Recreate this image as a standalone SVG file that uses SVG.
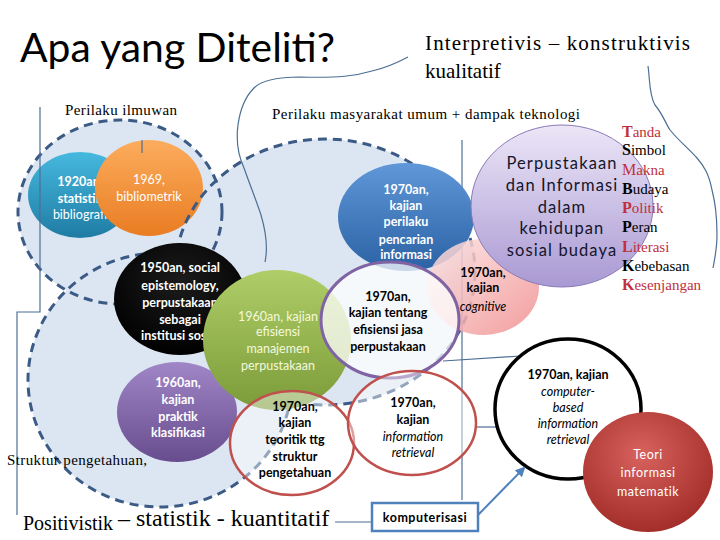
<svg xmlns="http://www.w3.org/2000/svg" width="720" height="540" viewBox="0 0 720 540">
<defs>
<linearGradient id="gTeal" x1="0" y1="0" x2="0" y2="1"><stop offset="0" stop-color="#46b8de"/><stop offset="1" stop-color="#1f7ca4"/></linearGradient>
<linearGradient id="gOrange" x1="0" y1="0" x2="0" y2="1"><stop offset="0" stop-color="#fcac5e"/><stop offset="1" stop-color="#e97d22"/></linearGradient>
<radialGradient id="gBlack" cx="0.5" cy="0.35" r="0.65"><stop offset="0" stop-color="#1c1c1c"/><stop offset="1" stop-color="#000"/></radialGradient>
<linearGradient id="gGreen" x1="0" y1="0" x2="0" y2="1"><stop offset="0" stop-color="#afce68"/><stop offset="1" stop-color="#7b9b39"/></linearGradient>
<linearGradient id="gPurple" x1="0" y1="0" x2="0" y2="1"><stop offset="0" stop-color="#a186c7"/><stop offset="1" stop-color="#684d8e"/></linearGradient>
<linearGradient id="gBlue" x1="0" y1="0" x2="0" y2="1"><stop offset="0" stop-color="#6097d8"/><stop offset="1" stop-color="#2b62a5"/></linearGradient>
<linearGradient id="gPink" x1="0" y1="0" x2="1" y2="1"><stop offset="0" stop-color="#fde4e4"/><stop offset="1" stop-color="#f08c8c"/></linearGradient>
<linearGradient id="gLav" x1="0" y1="0" x2="0" y2="1"><stop offset="0" stop-color="#ece6f7"/><stop offset="1" stop-color="#a999d3"/></linearGradient>
<radialGradient id="gRed" cx="0.45" cy="0.35" r="0.65"><stop offset="0" stop-color="#d8625d"/><stop offset="1" stop-color="#a32e2a"/></radialGradient>
<marker id="arr" viewBox="0 0 10 10" refX="8" refY="5" markerWidth="5" markerHeight="5" orient="auto"><path d="M0,0 L10,5 L0,10 z" fill="#4f81bd"/></marker>
<style>
.bg{fill:#dce6f2}
.dash{fill:none;stroke:#3b5b86;stroke-width:3;stroke-dasharray:9 6}
.thin{fill:none;stroke:#4d6f94;stroke-width:1.2}
.sr{font-family:'Liberation Serif','Times New Roman',serif;fill:#000}
.ss{font-family:Lato,'Open Sans',sans-serif;text-anchor:middle;font-size:12.5px}
.b{font-weight:bold}
.i{font-style:italic}
.w{fill:#fff}
.k{fill:#000}
.red{fill:#c0303c}
.oc{fill:#fff;fill-opacity:0.45;stroke:#c0504d;stroke-width:2.5}
.lv{fill:#15152a;font-size:16.5px;letter-spacing:1.1px}
</style>
</defs>
<rect width="720" height="540" fill="#fff"/>

<g id="regions">
<ellipse class="bg" cx="120" cy="212" rx="102" ry="92"/>
<ellipse class="bg" cx="160" cy="380" rx="132" ry="127"/>
<ellipse class="bg" cx="325" cy="272" rx="150" ry="133"/>
<ellipse class="dash" cx="120" cy="212" rx="102" ry="92"/>
<ellipse class="dash" cx="160" cy="380" rx="132" ry="127"/>
</g>

<g id="n-1920">
<ellipse cx="80" cy="195" rx="52" ry="43" fill="url(#gTeal)"/>
<text class="ss w b" x="80" y="186">1920an,</text>
<text class="ss w b" x="80" y="203">statistik</text>
<text class="ss w" x="80" y="219" font-size="11.5">bibliografi</text>
</g>
<g id="n-1969">
<ellipse cx="149" cy="188" rx="54" ry="48" fill="url(#gOrange)"/>
<text class="ss w" x="149" y="184" font-size="12">1969,</text>
<text class="ss w" x="149" y="201" font-size="12">bibliometrik</text>
</g>
<ellipse id="region-outline" class="dash" cx="325" cy="272" rx="150" ry="133"/>

<g id="connectors">
<path class="thin" d="M408,57 C395,64 385,68 372,71 C355,76 340,78 300,77 C280,77 262,80 254,88 C244,98 240,110 238,125 C236,140 238,155 244,168 C250,185 256,200 261,215 C266,232 268,248 265,262"/>
<path class="thin" d="M648,66 C650,80 649,95 655,105 C662,113 665,122 670,130 C678,140 688,148 697,158 C705,167 709,175 712,190 C716,205 717,220 717,235 C717,248 715,258 713,268"/>
<path class="thin" d="M462,140 V500"/>
<path class="thin" d="M142,140 V153"/>
<path class="thin" d="M335,522 H372"/>
<path class="thin" d="M443,361 L520,356"/>
<path class="thin" d="M476,427 H496"/>
</g>

<g id="n-1950">
<ellipse cx="180" cy="299" rx="66" ry="56" fill="url(#gBlack)"/>
<text class="ss w b" x="180" y="272">1950an, social</text>
<text class="ss w b" x="180" y="290">epistemology,</text>
<text class="ss w b" x="180" y="307">perpustakaan</text>
<text class="ss w b" x="180" y="324">sebagai</text>
<text class="ss w b" x="180" y="340">institusi sosial</text>
</g>
<g id="n-1960k">
<ellipse cx="177" cy="412" rx="60" ry="50" fill="url(#gPurple)"/>
<text class="ss w b" x="178" y="387">1960an,</text>
<text class="ss w b" x="178" y="404">kajian</text>
<text class="ss w b" x="178" y="421">praktik</text>
<text class="ss w b" x="178" y="437">klasifikasi</text>
</g>
<g id="n-1960e">
<ellipse cx="277" cy="340" rx="74" ry="70" fill="url(#gGreen)"/>
<text class="ss" fill="#f4f8dc" x="278" y="321">1960an, kajian</text>
<text class="ss" fill="#f4f8dc" x="278" y="336">efisiensi</text>
<text class="ss" fill="#f4f8dc" x="278" y="353">manajemen</text>
<text class="ss" fill="#f4f8dc" x="278" y="370">perpustakaan</text>
</g>
<g id="n-1970p">
<ellipse cx="406" cy="217" rx="68" ry="54" fill="url(#gBlue)"/>
<text class="ss w b" x="406" y="194" font-size="13">1970an,</text>
<text class="ss w b" x="406" y="210" font-size="13">kajian</text>
<text class="ss w b" x="406" y="226" font-size="13">perilaku</text>
<text class="ss w b" x="406" y="244" font-size="13">pencarian</text>
<text class="ss w b" x="406" y="259" font-size="13">informasi</text>
</g>
<g id="n-1970c">
<ellipse cx="483" cy="287" rx="56" ry="48" fill="url(#gPink)" fill-opacity="0.85"/>
<text class="ss k b" x="483" y="277">1970an,</text>
<text class="ss k b" x="483" y="292">kajian</text>
<text class="ss k i" x="483" y="311">cognitive</text>
</g>
<g id="n-pi">
<ellipse cx="562" cy="206" rx="91" ry="81" fill="url(#gLav)" stroke="#8a7ab8" stroke-width="1"/>
<text class="ss lv" x="562" y="169">Perpustakaan</text>
<text class="ss lv" x="562" y="191">dan Informasi</text>
<text class="ss lv" x="562" y="213">dalam</text>
<text class="ss lv" x="562" y="234">kehidupan</text>
<text class="ss lv" x="562" y="256">sosial budaya</text>
</g>
<g id="n-1970j">
<ellipse cx="390" cy="320" rx="69" ry="58" fill="#fff" fill-opacity="0.75" stroke="#7f63a3" stroke-width="3"/>
<text class="ss k b" x="388" y="301">1970an,</text>
<text class="ss k b" x="388" y="317">kajian tentang</text>
<text class="ss k b" x="388" y="334">efisiensi jasa</text>
<text class="ss k b" x="388" y="351">perpustakaan</text>
</g>
<g id="n-1970t">
<ellipse class="oc" cx="292" cy="443" rx="62" ry="52"/>
<text class="ss k b" x="295" y="411">1970an,</text>
<text class="ss k b" x="295" y="427">kajian</text>
<text class="ss k b" x="295" y="444">teoritik ttg</text>
<text class="ss k b" x="295" y="461">struktur</text>
<text class="ss k b" x="295" y="477">pengetahuan</text>
</g>
<g id="n-1970ir">
<ellipse class="oc" cx="412" cy="423" rx="64" ry="52"/>
<text class="ss k b" x="413" y="407">1970an,</text>
<text class="ss k b" x="413" y="424">kajian</text>
<text class="ss k i" x="413" y="441">information</text>
<text class="ss k i" x="413" y="457">retrieval</text>
</g>
<g id="n-1970cb">
<ellipse cx="568" cy="409" rx="73" ry="70" fill="#fff" stroke="#000" stroke-width="3.5"/>
<text class="ss k b" x="568" y="379">1970an, kajian</text>
<text class="ss k i" x="568" y="396">computer-</text>
<text class="ss k i" x="568" y="412">based</text>
<text class="ss k i" x="568" y="428">information</text>
<text class="ss k i" x="568" y="444">retrieval</text>
</g>
<g id="n-teori">
<ellipse cx="648" cy="472" rx="65" ry="60" fill="url(#gRed)"/>
<text class="ss w" font-size="13.5" letter-spacing="0.5" x="648" y="459">Teori</text>
<text class="ss w" font-size="13.5" letter-spacing="0.5" x="648" y="477">informasi</text>
<text class="ss w" font-size="13.5" letter-spacing="0.5" x="648" y="496">matematik</text>
</g>
<g id="n-komp">
<rect x="372" y="503" width="106" height="28" fill="#fff" stroke="#4f81bd" stroke-width="2.5"/>
<text class="ss k b" font-size="13.5" letter-spacing="0.5" x="425" y="522">komputerisasi</text>
</g>
<g id="arrow">
<path d="M478,515 L524,468" fill="none" stroke="#4f81bd" stroke-width="2" marker-end="url(#arr)"/>
</g>
<path class="thin" d="M40,107 V312 H17 V515"/>

<g id="labels">
<text x="20" y="62" font-family="Lato,'Open Sans',sans-serif" font-size="40" textLength="315" lengthAdjust="spacingAndGlyphs" fill="#000">Apa yang Diteliti?</text>
<text class="sr" x="425" y="50" font-size="21" textLength="265">Interpretivis – konstruktivis</text>
<text class="sr" x="425" y="78" font-size="21">kualitatif</text>
<text class="sr" x="65" y="115" font-size="15" textLength="112">Perilaku ilmuwan</text>
<text class="sr" x="272" y="119" font-size="15" textLength="308">Perilaku masyarakat umum + dampak teknologi</text>
<text class="sr" x="7" y="465" font-size="15" textLength="140">Struktur pengetahuan,</text>
<text class="sr" x="23" y="530" font-size="20">Positivistik</text>
<text class="sr" x="118" y="526" font-size="24">– statistik - kuantitatif</text>
</g>
<g id="wordlist" font-size="15">
<text class="sr red" x="622" y="137" font-size="15"><tspan font-weight="bold" font-size="16">T</tspan>anda</text>
<text class="sr" x="622" y="155" font-size="15"><tspan font-weight="bold" font-size="16">S</tspan>imbol</text>
<text class="sr red" x="622" y="175" font-size="15"><tspan font-size="16">M</tspan>akna</text>
<text class="sr" x="622" y="194" font-size="15"><tspan font-weight="bold" font-size="16">B</tspan>udaya</text>
<text class="sr red" x="622" y="213" font-size="15"><tspan font-weight="bold" font-size="16">P</tspan>olitik</text>
<text class="sr" x="622" y="232" font-size="15"><tspan font-weight="bold" font-size="16">P</tspan>eran</text>
<text class="sr red" x="622" y="252" font-size="15"><tspan font-weight="bold" font-size="16">L</tspan>iterasi</text>
<text class="sr" x="622" y="271" font-size="15"><tspan font-weight="bold" font-size="16">K</tspan>ebebasan</text>
<text class="sr red" x="622" y="290" font-size="15"><tspan font-weight="bold" font-size="16">K</tspan>esenjangan</text>
</g>
</svg>
